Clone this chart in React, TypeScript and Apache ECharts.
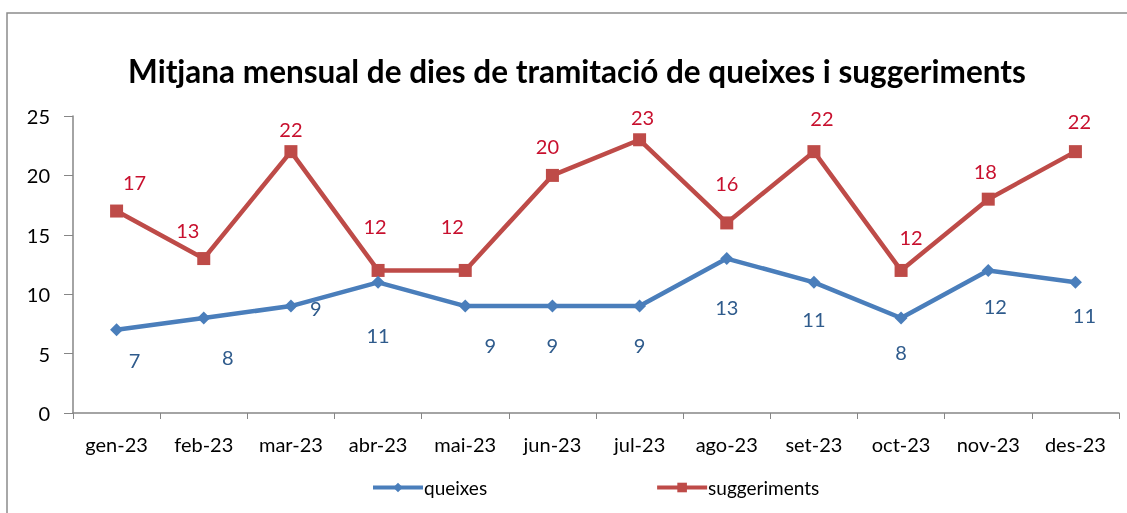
import React, { useEffect, useRef } from "react";
import * as echarts from "echarts";

const months = ["gen-23", "feb-23", "mar-23", "abr-23", "mai-23", "jun-23", "jul-23", "ago-23", "set-23", "oct-23", "nov-23", "des-23"];
const queixes = [7, 8, 9, 11, 9, 9, 9, 13, 11, 8, 12, 11];
const suggeriments = [17, 13, 22, 12, 12, 20, 23, 16, 22, 12, 18, 22];
const yTicks = [0, 5, 10, 15, 20, 25];

// label offsets (px) relative to each point, as placed in the reference
const queixesLabelOffsets = [[18, 30], [24, 39], [25, 2], [0, 53], [25, 39], [0, 39], [0, 39], [0, 48], [0, 37], [0, 34], [7, 36], [9, 33]];
const suggLabelOffsets = [[18, -29], [-16, -29], [0, -23], [-3, -44], [-13, -44], [-5, -29], [3, -23], [0, -40], [8, -34], [10, -33], [-3, -28], [4, -31]];

const FONT = "Lato, 'Open Sans', sans-serif";
const BLUE = "#4A7EBB";
const RED = "#BE4B48";

export default function App() {
  const ref = useRef<HTMLDivElement>(null);
  useEffect(() => {
    if (!ref.current) return;
    const chart = echarts.init(ref.current, undefined, { renderer: "svg" });
    const mkData = (vals: number[], offs: number[][], color: string) =>
      vals.map((v, i) => ({
        value: v,
        label: {
          show: true,
          position: "inside",
          offset: offs[i],
          color,
          fontSize: 20,
          fontFamily: FONT,
        },
      }));
    chart.setOption({
      animation: false,
      textStyle: { fontFamily: FONT },
      title: {
        text: "Mitjana mensual de dies de tramitació de queixes i suggeriments",
        left: 572,
        textAlign: "center",
        top: 50,
        textStyle: { fontSize: 31.5, fontWeight: "bold", color: "#000", fontFamily: FONT },
      },
      graphic: [
        {
          type: "rect",
          shape: { x: 7, y: 13, width: 1300, height: 700 },
          style: { fill: "none", stroke: "#8c8c8c", lineWidth: 1.5 },
          silent: true,
        },
      ],
      legend: {
        bottom: 11,
        left: 366,
        itemWidth: 50,
        itemHeight: 12,
        itemGap: 168,
        textStyle: { fontSize: 19, color: "#000", fontFamily: FONT, padding: [0, 0, 0, -4] },
        data: [
          { name: "queixes", lineStyle: { width: 4, color: BLUE }, itemStyle: { color: BLUE } },
          { name: "suggeriments", lineStyle: { width: 4, color: RED }, itemStyle: { color: RED } },
        ],
      },
      grid: { left: 73, right: 8, top: 116, bottom: 100, containLabel: false },
      xAxis: {
        type: "category",
        data: months,
        boundaryGap: true,
        axisLine: { lineStyle: { color: "#868686", width: 1.5 } },
        axisTick: { show: true, length: 6, interval: 0, lineStyle: { color: "#868686" } },
        axisLabel: { color: "#000", fontSize: 20, margin: 21, interval: 0, fontFamily: FONT },
        splitLine: { show: false },
      },
      yAxis: {
        type: "value",
        min: yTicks[0],
        max: yTicks[yTicks.length - 1],
        interval: 5,
        axisLine: { show: true, lineStyle: { color: "#868686", width: 1.5 } },
        axisTick: { show: true, length: 9, lineStyle: { color: "#868686" } },
        axisLabel: { color: "#000", fontSize: 20, margin: 23, fontFamily: FONT },
        splitLine: { show: false },
      },
      series: [
        {
          name: "queixes",
          type: "line",
          data: mkData(queixes, queixesLabelOffsets, "#2F5B8C"),
          symbol: "diamond",
          symbolSize: 13,
          lineStyle: { color: BLUE, width: 4.5 },
          itemStyle: { color: BLUE },
          z: 3,
        },
        {
          name: "suggeriments",
          type: "line",
          data: mkData(suggeriments, suggLabelOffsets, "#C8102E"),
          symbol: "rect",
          symbolSize: 13,
          lineStyle: { color: RED, width: 4.5 },
          itemStyle: { color: RED },
          z: 2,
        },
      ],
    });
    return () => chart.dispose();
  }, []);
  return <div ref={ref} style={{ position: "fixed", left: 0, top: 0, width: 1127, height: 513 }} />;
}
